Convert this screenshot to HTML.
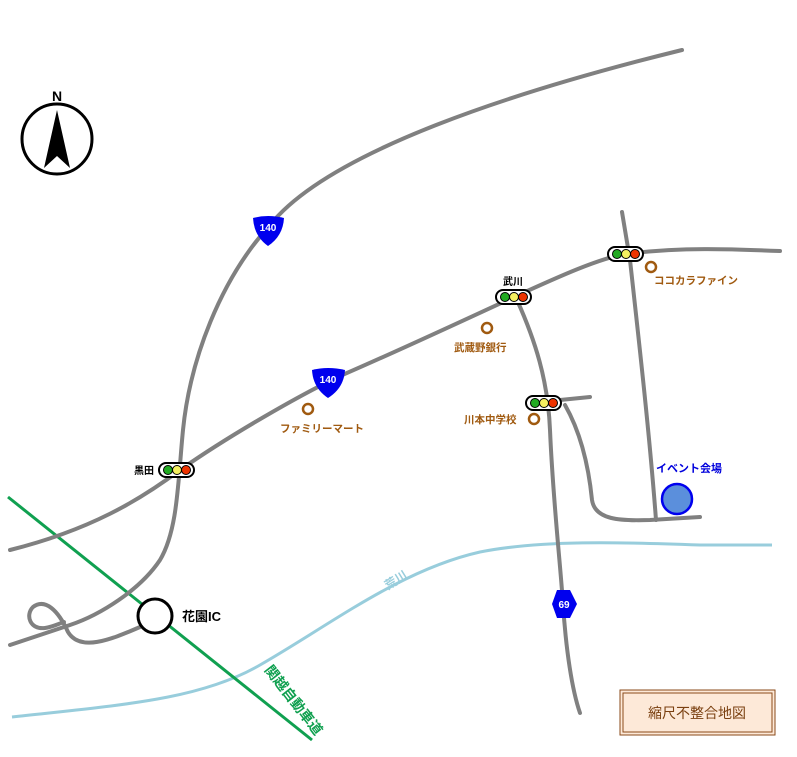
<!DOCTYPE html>
<html><head><meta charset="utf-8"><style>
html,body{margin:0;padding:0;background:#fff}
svg{display:block}
text{font-family:"Liberation Sans","Noto Sans CJK JP",sans-serif;font-weight:bold}
</style></head><body>
<svg width="797" height="757" viewBox="0 0 797 757" xmlns="http://www.w3.org/2000/svg">
<rect width="797" height="757" fill="#fff"/>
<path d="M12,717 C120,705 200,700 260,665 C330,625 400,570 480,552 C540,540 620,542 700,545 L772,545" fill="none" stroke="#98cddc" stroke-width="3"/>
<text x="0" y="0" font-size="12" fill="#98cddc" transform="translate(388,590) rotate(-32)">荒川</text>
<line x1="8" y1="497" x2="312" y2="740" stroke="#10a050" stroke-width="3"/>
<text x="0" y="0" font-size="14" fill="#10a050" transform="translate(264,670) rotate(52)">関越自動車道</text>
<g fill="none" stroke="#808080" stroke-width="4" stroke-linecap="round">
<path d="M682,50 C520,90 330,150 270,225 C220,280 190,360 183,430 C178,480 178,530 160,560 C140,590 100,615 70,625 L10,645"/>
<path d="M140,627 C110,640 80,652 68,632 C58,610 45,598 33,607 C25,615 30,630 45,628 C52,627 58,624 64,622"/>
<path d="M10,550 C90,530 140,500 180,470 C230,435 300,395 340,376 C400,350 460,322 514,297 C560,276 600,258 626,254 C680,247 730,249 780,251"/>
<path d="M517,300 C535,340 548,380 550,430 C553,500 560,560 563,604 C566,650 572,690 580,713"/>
<path d="M622,212 L630,260 C640,350 650,440 656,520"/>
<path d="M560,400 L590,397"/>
<path d="M565,405 C585,440 590,480 592,500 C595,520 620,521 650,520 L700,517"/>
</g>
<circle cx="57" cy="139" r="35" fill="#fff" stroke="#000" stroke-width="3"/>
<polygon points="57,110 44,168 57,156 70,168" fill="#000"/>
<text x="57" y="101" font-size="14" text-anchor="middle" fill="#000">N</text>
<path d="M253,218 Q268,214 284,218 Q283,236 268,246 Q254,236 253,218 Z" fill="#0000ee"/>
<text x="268" y="231" font-size="10" fill="#fff" text-anchor="middle">140</text>
<path d="M312,370 Q328,366 345,370 Q344,388 328,398 Q313,388 312,370 Z" fill="#0000ee"/>
<text x="328" y="383" font-size="10" fill="#fff" text-anchor="middle">140</text>
<polygon points="552,604 557,590 570,590 577,604 570,618 557,618" fill="#0000ee"/>
<text x="564" y="608" font-size="10" fill="#fff" text-anchor="middle">69</text>
<g stroke="#000">
<rect x="159" y="463" width="35" height="14" rx="7" fill="#fff" stroke-width="2"/>
<circle cx="168" cy="470" r="4.5" fill="#22aa22" stroke-width="1"/><circle cx="177" cy="470" r="4.5" fill="#f5f060" stroke-width="1"/><circle cx="186" cy="470" r="4.5" fill="#ee3300" stroke-width="1"/>
<rect x="496" y="290" width="35" height="14" rx="7" fill="#fff" stroke-width="2"/>
<circle cx="505" cy="297" r="4.5" fill="#22aa22" stroke-width="1"/><circle cx="514" cy="297" r="4.5" fill="#f5f060" stroke-width="1"/><circle cx="523" cy="297" r="4.5" fill="#ee3300" stroke-width="1"/>
<rect x="608" y="247" width="35" height="14" rx="7" fill="#fff" stroke-width="2"/>
<circle cx="617" cy="254" r="4.5" fill="#22aa22" stroke-width="1"/><circle cx="626" cy="254" r="4.5" fill="#f5f060" stroke-width="1"/><circle cx="635" cy="254" r="4.5" fill="#ee3300" stroke-width="1"/>
<rect x="526" y="396" width="35" height="14" rx="7" fill="#fff" stroke-width="2"/>
<circle cx="535" cy="403" r="4.5" fill="#22aa22" stroke-width="1"/><circle cx="544" cy="403" r="4.5" fill="#f5f060" stroke-width="1"/><circle cx="553" cy="403" r="4.5" fill="#ee3300" stroke-width="1"/>
</g>
<text x="134" y="474" font-size="10" fill="#000">黒田</text>
<text x="503" y="285" font-size="10" fill="#000">武川</text>
<g fill="none" stroke="#a05a10" stroke-width="2.5">
<circle cx="308" cy="409" r="5"/><circle cx="487" cy="328" r="5"/><circle cx="651" cy="267" r="5"/><circle cx="534" cy="419" r="5"/>
</g>
<g font-size="10.5" fill="#a05a10">
<text x="280" y="432">ファミリーマート</text>
<text x="454" y="351">武蔵野銀行</text>
<text x="654" y="284">ココカラファイン</text>
<text x="464" y="423">川本中学校</text>
</g>
<text x="656" y="472" font-size="11" fill="#0000dd">イベント会場</text>
<circle cx="677" cy="499" r="15" fill="#5b8fdc" stroke="#0000ee" stroke-width="2.5"/>
<circle cx="155" cy="616" r="17" fill="#fff" stroke="#000" stroke-width="3"/>
<text x="182" y="621" font-size="13" fill="#000">花園IC</text>
<rect x="620" y="690" width="155" height="45" fill="#fde9d8" stroke="#8a4a1a" stroke-width="1"/>
<rect x="623" y="693" width="149" height="39" fill="none" stroke="#8a4a1a" stroke-width="1"/>
<text x="697" y="718" font-size="14" style="font-weight:normal" fill="#7a4010" text-anchor="middle">縮尺不整合地図</text>
</svg>
</body></html>
